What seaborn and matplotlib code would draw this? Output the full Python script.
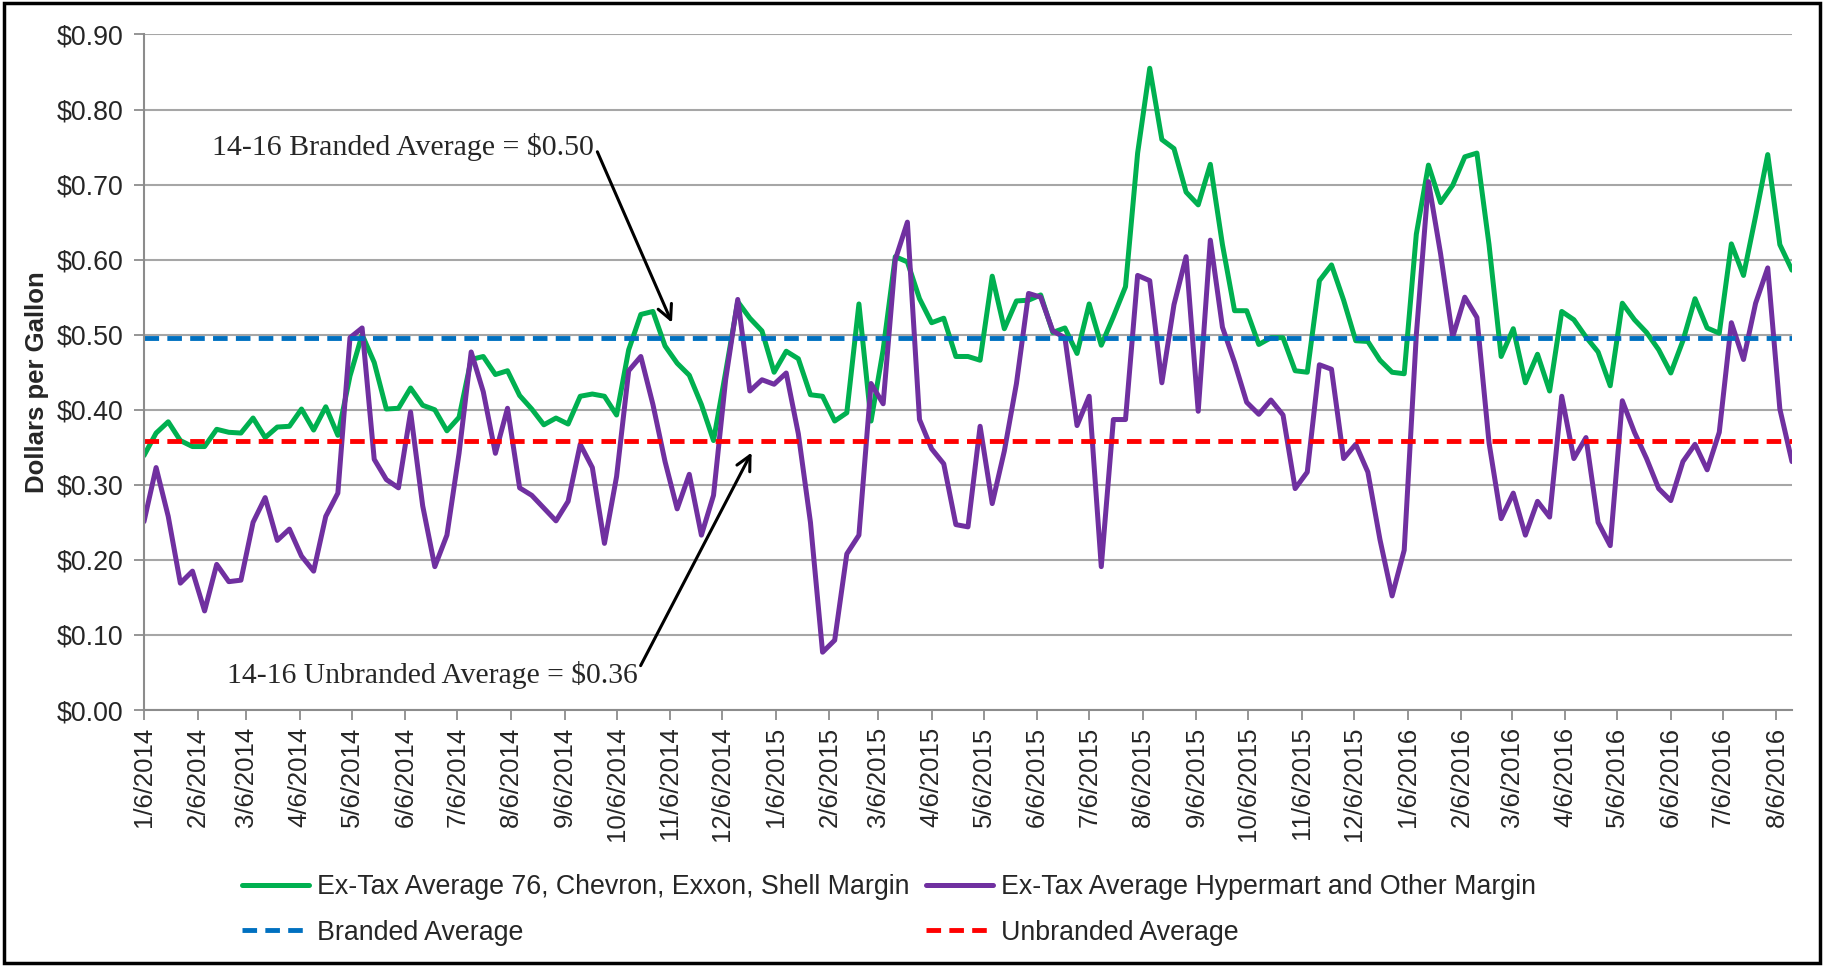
import matplotlib.pyplot as plt
import matplotlib.patches as patches
from matplotlib.ticker import FuncFormatter
import pandas as pd
import seaborn as sns

sns.set_style("white")
plt.rcParams['font.family'] = ['Liberation Sans', 'DejaVu Sans']

# weekly ex-tax margins ($/gal), first week 1/6/2014
branded = [0.339, 0.369, 0.384, 0.359, 0.351, 0.351, 0.374, 0.370, 0.369, 0.389,
           0.363, 0.377, 0.378, 0.401, 0.373, 0.404, 0.366, 0.445, 0.500, 0.463,
           0.401, 0.402, 0.429, 0.406, 0.400, 0.372, 0.390, 0.467, 0.471, 0.447,
           0.452, 0.419, 0.401, 0.380, 0.389, 0.381, 0.418, 0.421, 0.418, 0.393,
           0.480, 0.527, 0.531, 0.485, 0.462, 0.446, 0.407, 0.359, 0.450, 0.544,
           0.522, 0.505, 0.450, 0.478, 0.468, 0.420, 0.418, 0.385, 0.396, 0.541,
           0.385, 0.480, 0.604, 0.597, 0.548, 0.516, 0.522, 0.471, 0.471, 0.466,
           0.578, 0.508, 0.545, 0.546, 0.553, 0.503, 0.509, 0.475, 0.541, 0.486,
           0.524, 0.564, 0.742, 0.855, 0.760, 0.748, 0.690, 0.673, 0.727, 0.620,
           0.532, 0.532, 0.487, 0.496, 0.496, 0.452, 0.450, 0.572, 0.593, 0.546,
           0.492, 0.491, 0.466, 0.450, 0.448, 0.634, 0.726, 0.676, 0.699, 0.737,
           0.742, 0.620, 0.471, 0.508, 0.436, 0.474, 0.425, 0.531, 0.520, 0.497,
           0.477, 0.432, 0.542, 0.520, 0.503, 0.480, 0.449, 0.492, 0.548, 0.509,
           0.502, 0.621, 0.579, 0.658, 0.740, 0.620, 0.586]

hypermart = [0.251, 0.323, 0.258, 0.169, 0.185, 0.132, 0.194, 0.171, 0.173, 0.250,
             0.283, 0.226, 0.241, 0.205, 0.185, 0.258, 0.289, 0.496, 0.509, 0.334,
             0.307, 0.296, 0.397, 0.272, 0.191, 0.233, 0.342, 0.477, 0.424, 0.342,
             0.402, 0.296, 0.286, 0.269, 0.252, 0.278, 0.354, 0.323, 0.222, 0.311,
             0.452, 0.471, 0.407, 0.331, 0.268, 0.314, 0.233, 0.286, 0.440, 0.547,
             0.425, 0.440, 0.434, 0.449, 0.368, 0.250, 0.077, 0.093, 0.208, 0.233,
             0.435, 0.408, 0.600, 0.650, 0.387, 0.348, 0.328, 0.247, 0.244, 0.378,
             0.275, 0.345, 0.435, 0.555, 0.550, 0.505, 0.496, 0.379, 0.418, 0.191,
             0.387, 0.387, 0.579, 0.572, 0.436, 0.540, 0.604, 0.398, 0.626, 0.510,
             0.463, 0.410, 0.394, 0.413, 0.393, 0.295, 0.317, 0.460, 0.454, 0.335,
             0.354, 0.317, 0.227, 0.152, 0.213, 0.500, 0.704, 0.608, 0.497, 0.550,
             0.523, 0.356, 0.255, 0.289, 0.233, 0.278, 0.257, 0.418, 0.335, 0.363,
             0.250, 0.219, 0.412, 0.370, 0.335, 0.295, 0.279, 0.331, 0.354, 0.320,
             0.370, 0.516, 0.467, 0.542, 0.589, 0.401, 0.331]

branded_avg = 0.495
unbranded_avg = 0.358

tick_labels = ['1/6/2014', '2/6/2014', '3/6/2014', '4/6/2014', '5/6/2014', '6/6/2014',
               '7/6/2014', '8/6/2014', '9/6/2014', '10/6/2014', '11/6/2014', '12/6/2014',
               '1/6/2015', '2/6/2015', '3/6/2015', '4/6/2015', '5/6/2015', '6/6/2015',
               '7/6/2015', '8/6/2015', '9/6/2015', '10/6/2015', '11/6/2015', '12/6/2015',
               '1/6/2016', '2/6/2016', '3/6/2016', '4/6/2016', '5/6/2016', '6/6/2016',
               '7/6/2016', '8/6/2016']

labels = ['Ex-Tax Average 76, Chevron, Exxon, Shell Margin',
          'Ex-Tax Average Hypermart and Other Margin',
          'Branded Average', 'Unbranded Average']

# build frame
dates = pd.date_range('2014-01-06', periods=len(branded), freq='7D')
df = pd.DataFrame({'date': dates, 'branded': branded, 'hypermart': hypermart})
tick_dates = pd.to_datetime(tick_labels, format='%m/%d/%Y')

# plot ---------------------------------------------------------------
fig = plt.figure(figsize=(18.25, 9.66), dpi=100)
ax = fig.add_axes([0.0789, 0.265, 0.903, 0.6993])

sns.lineplot(data=df, x='date', y='branded', color='#00B050', lw=3.6,
             label=labels[0], ax=ax)
sns.lineplot(data=df, x='date', y='hypermart', color='#7030A0', lw=3.6,
             label=labels[1], ax=ax)
ax.axhline(branded_avg, color='#0070C0', lw=3.5, dashes=(3.0, 1.7), label=labels[2])
ax.axhline(unbranded_avg, color='#FF0000', lw=3.5, dashes=(3.0, 1.7), label=labels[3])

# axes
ax.set_ylim(0, 0.9)
ax.set_yticks([i / 10 for i in range(10)])
ax.yaxis.set_major_formatter(FuncFormatter(lambda v, p: f'${v:.2f}'))
ax.set_xlim(dates[0], dates[-1])
ax.set_xticks(tick_dates)
ax.set_xticklabels(tick_labels, rotation=90)
ax.tick_params(axis='y', labelsize=19.3, length=7, width=1.3, color='#8C8C8C',
               direction='out', left=True, pad=8)
ax.tick_params(axis='x', labelsize=18.5, length=7, width=1.3, color='#8C8C8C',
               direction='out', bottom=True, pad=5)
ax.yaxis.grid(True, color='#A6A6A6', lw=1.5)
ax.set_axisbelow(True)
for s in ['top', 'right']:
    ax.spines[s].set_visible(False)
for s in ['left', 'bottom']:
    ax.spines[s].set_color('#8C8C8C')
    ax.spines[s].set_linewidth(1.5)
ax.set_xlabel('')
ax.set_ylabel('Dollars per Gallon', fontsize=18.5, fontweight='bold')
ax.yaxis.set_label_coords(-0.0575, 0.486)

# annotations
serif = ['Liberation Serif', 'DejaVu Serif']
ax.annotate('14-16 Branded Average = $0.50',
            xy=(pd.Timestamp('2014-11-07'), 0.516),
            xytext=(pd.Timestamp('2014-09-23'), 0.75),
            ha='right', va='center', fontsize=21.5, family=serif,
            arrowprops=dict(arrowstyle='->', color='black', lw=2.2,
                            relpos=(1.0, 0.6), mutation_scale=26, shrinkA=0, shrinkB=0))
ax.annotate('14-16 Unbranded Average = $0.36',
            xy=(pd.Timestamp('2014-12-23'), 0.343),
            xytext=(pd.Timestamp('2014-10-18'), 0.047),
            ha='right', va='center', fontsize=21.3, family=serif,
            arrowprops=dict(arrowstyle='->', color='black', lw=2.2,
                            relpos=(1.0, 0.6), mutation_scale=26, shrinkA=0, shrinkB=0))

# legend, 2 columns below the plot
h, l = ax.get_legend_handles_labels()
order = [0, 2, 1, 3]
ax.legend([h[i] for i in order], [l[i] for i in order], ncol=2, frameon=False,
          fontsize=19.3, loc='upper left', bbox_to_anchor=(242 / 1825, 92 / 966),
          bbox_transform=fig.transFigure, borderpad=0, borderaxespad=0,
          handlelength=2.5, handletextpad=0.3, columnspacing=0.6, labelspacing=0.74)

# outer frame
fig.add_artist(patches.Rectangle((0.002, 0.003), 0.995, 0.994, transform=fig.transFigure,
                                 fill=False, edgecolor='black', lw=2.5))

plt.savefig('out.png', dpi=100)
